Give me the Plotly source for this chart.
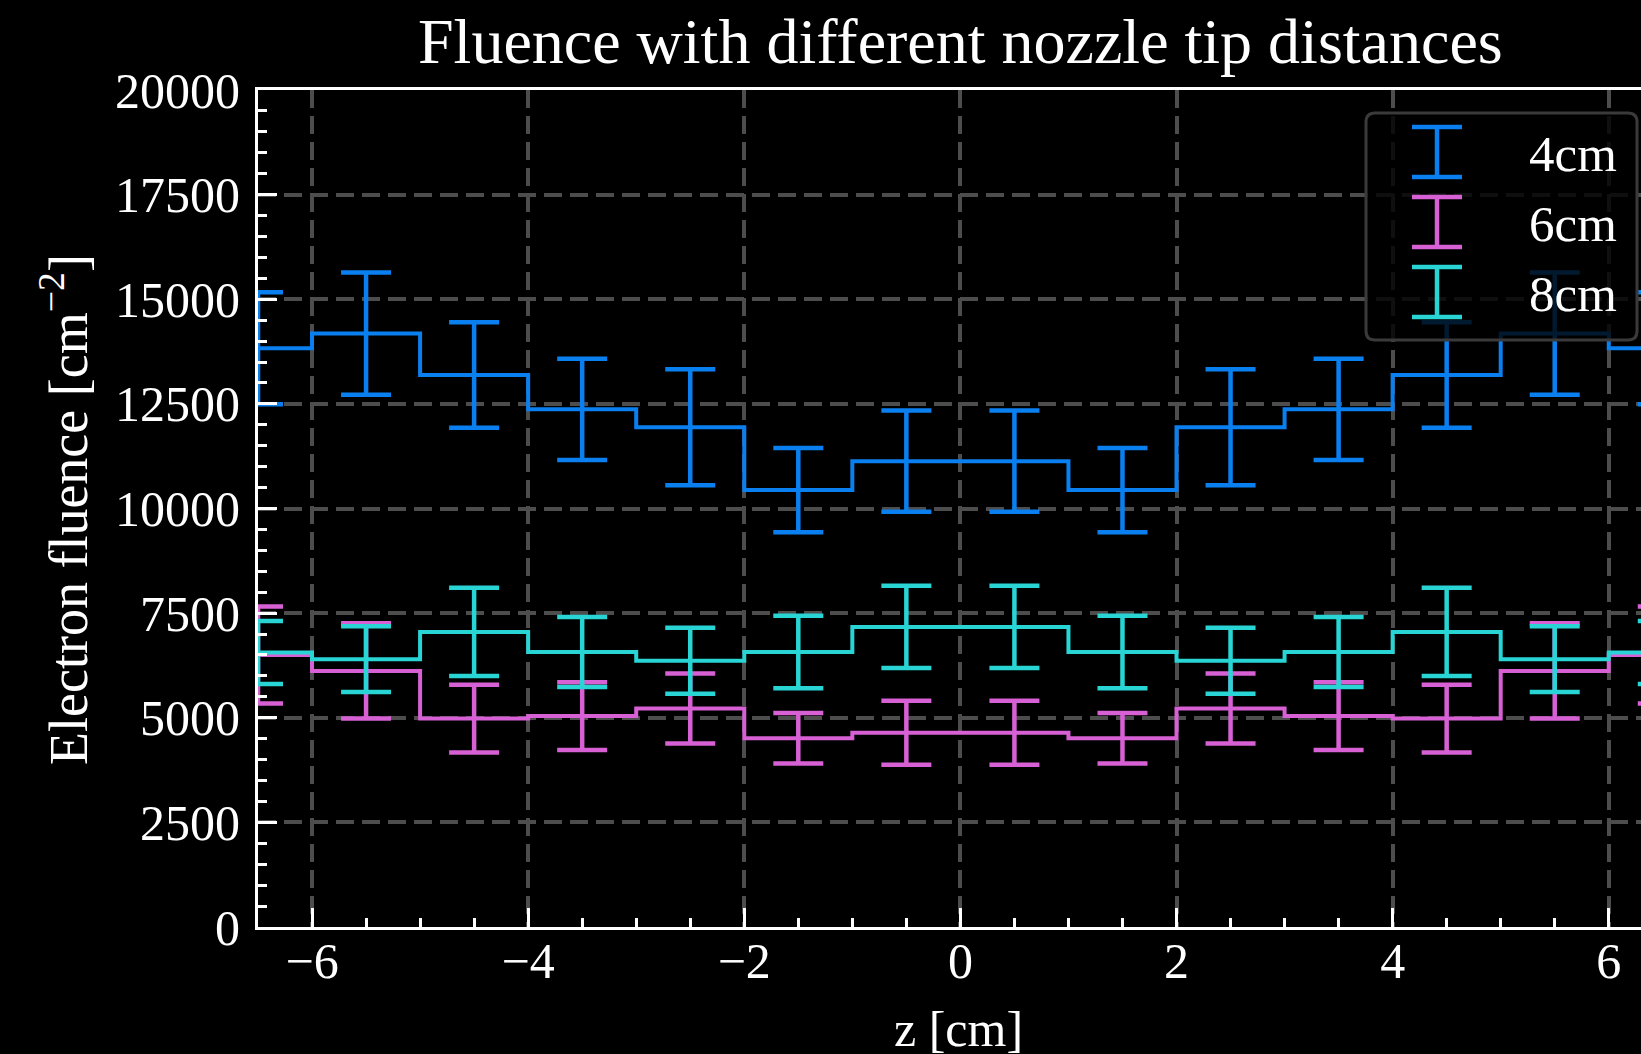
import plotly.graph_objects as go

# ---------------- data ----------------
bin_edges = [-7, -6, -5, -4, -3, -2, -1, 0, 1, 2, 3, 4, 5, 6, 7]
bin_centers = [-6.5, -5.5, -4.5, -3.5, -2.5, -1.5, -0.5, 0.5, 1.5, 2.5, 3.5, 4.5, 5.5, 6.5]

fluence_4cm = [13830, 14180, 13190, 12370, 11940, 10440, 11130,
               11130, 10440, 11940, 12370, 13190, 14180, 13830]
err_4cm = [1340, 1460, 1262, 1210, 1385, 1007, 1210,
           1210, 1007, 1385, 1210, 1262, 1460, 1340]

fluence_6cm = [6500, 6120, 4980, 5040, 5220, 4510, 4640,
               4640, 4510, 5220, 5040, 4980, 6120, 6500]
err_6cm = [1160, 1140, 808, 808, 836, 601, 765,
           765, 601, 836, 808, 808, 1140, 1160]

fluence_8cm = [6560, 6400, 7050, 6570, 6360, 6570, 7170,
               7170, 6570, 6360, 6570, 7050, 6400, 6560]
err_8cm = [753, 784, 1055, 836, 789, 868, 983,
           983, 868, 789, 836, 1055, 784, 753]

series_labels = ["4cm", "6cm", "8cm"]
series_colors = ["#0a80f0", "#d660d4", "#28d4d4"]

title_text = "Fluence with different nozzle tip distances"
xlabel_text = "z [cm]"
ylabel_text = "Electron fluence [cm<sup>\u22122</sup>]"

# ---------------- layout geometry ----------------
W, H = 1641, 1054
ML, MT, MB, MR = 258, 90, 127, 0
PW, PH = W - ML - MR, H - MT - MB
X0 = -6.5
PX_PER_UNIT = 108.06
X1 = X0 + PW / PX_PER_UNIT

FONT = "Liberation Serif"


def px(p):
    return (p - ML) / PW


def py(p):
    return (MT + PH - p) / PH


fig = go.Figure()

all_vals = [fluence_4cm, fluence_6cm, fluence_8cm]
all_errs = [err_4cm, err_6cm, err_8cm]

for vals, errs, col, lab in zip(all_vals, all_errs, series_colors, series_labels):
    fig.add_trace(go.Scatter(
        x=bin_edges, y=vals + [vals[-1]],
        mode="lines", line=dict(color=col, width=4, shape="hv"),
        showlegend=False, hoverinfo="skip", name=lab,
    ))
    fig.add_trace(go.Scatter(
        x=bin_centers, y=vals, mode="markers",
        marker=dict(size=0.1, color=col, opacity=0),
        error_y=dict(type="data", array=errs, visible=True, color=col,
                     thickness=4.5, width=25),
        showlegend=False, name=lab,
    ))

axis_common = dict(
    showline=True, linecolor="white", linewidth=3,
    ticks="inside", tickcolor="white", tickwidth=3, ticklen=19,
    tickfont=dict(family=FONT, size=50, color="white"),
    showgrid=True, gridcolor="#4d4d4d", gridwidth=4, griddash="18px,8px",
    zeroline=False,
)

fig.update_xaxes(
    range=[X0, X1], tickmode="linear", tick0=-6, dtick=2,
    minor=dict(ticks="inside", ticklen=9, tickwidth=2.5, tickcolor="white",
               tick0=0, dtick=0.5, showgrid=False),
    mirror=True, ticklabelstandoff=-12, **axis_common,
)
fig.update_yaxes(
    range=[0, 20000], tickmode="linear", tick0=0, dtick=2500, tickformat="d",
    minor=dict(ticks="inside", ticklen=9, tickwidth=2.5, tickcolor="white",
               tick0=0, dtick=500, showgrid=False),
    mirror=False, ticklabelstandoff=5, **axis_common,
)

shapes = []
annotations = []

# legend box (rounded rectangle)
lx0, lx1, ly0, ly1, r = 1366, 1637, 113, 340, 9
path = (f"M {px(lx0 + r)},{py(ly0)} L {px(lx1 - r)},{py(ly0)} "
        f"Q {px(lx1)},{py(ly0)} {px(lx1)},{py(ly0 + r)} "
        f"L {px(lx1)},{py(ly1 - r)} Q {px(lx1)},{py(ly1)} {px(lx1 - r)},{py(ly1)} "
        f"L {px(lx0 + r)},{py(ly1)} Q {px(lx0)},{py(ly1)} {px(lx0)},{py(ly1 - r)} "
        f"L {px(lx0)},{py(ly0 + r)} Q {px(lx0)},{py(ly0)} {px(lx0 + r)},{py(ly0)} Z")
shapes.append(dict(type="path", xref="paper", yref="paper", path=path,
                   fillcolor="rgba(0,0,0,0.8)", line=dict(color="#3a3a3a", width=3),
                   layer="above"))

row_centers = [152, 222, 292]
sym_x = 1437
for lab, col, cy in zip(series_labels, series_colors, row_centers):
    top, bot = cy - 25, cy + 25
    shapes.append(dict(type="line", xref="paper", yref="paper",
                       x0=px(sym_x), x1=px(sym_x), y0=py(top), y1=py(bot),
                       line=dict(color=col, width=4.5), layer="above"))
    for yy in (top, bot):
        shapes.append(dict(type="line", xref="paper", yref="paper",
                           x0=px(sym_x - 25), x1=px(sym_x + 25), y0=py(yy), y1=py(yy),
                           line=dict(color=col, width=4.5), layer="above"))
    annotations.append(dict(xref="paper", yref="paper", x=px(1527), y=py(cy + 2),
                            xanchor="left", yanchor="middle", showarrow=False,
                            text=lab, font=dict(family=FONT, size=51, color="white")))

# title
annotations.append(dict(xref="paper", yref="paper", x=px(960), y=py(41),
                        xanchor="center", yanchor="middle", showarrow=False,
                        text=title_text, font=dict(family=FONT, size=64, color="white")))
# x label
annotations.append(dict(xref="paper", yref="paper", x=px(959), y=py(1029),
                        xanchor="center", yanchor="middle", showarrow=False,
                        text=xlabel_text, font=dict(family=FONT, size=50, color="white")))
# y label
annotations.append(dict(xref="paper", yref="paper", x=px(64), y=py(510),
                        xanchor="center", yanchor="middle", showarrow=False, textangle=-90,
                        text=ylabel_text, font=dict(family=FONT, size=54, color="white")))

fig.update_layout(
    width=W, height=H,
    margin=dict(l=ML, r=MR, t=MT, b=MB, pad=0, autoexpand=False),
    paper_bgcolor="black", plot_bgcolor="black",
    showlegend=False, shapes=shapes, annotations=annotations,
)

fig.write_html(
    "out.html",
    config={"displayModeBar": False},
    post_script="document.body.style.margin='0';document.body.style.padding='0';"
                "document.body.style.background='black';"
                "document.documentElement.style.background='black';",
)
